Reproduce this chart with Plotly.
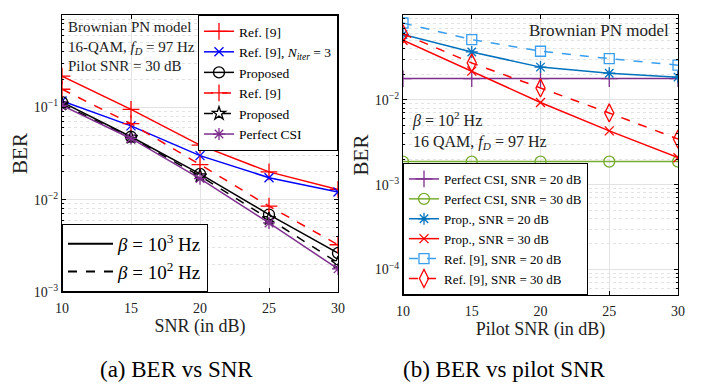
import plotly.graph_objects as go

# ---------- data ----------
snr = [10, 15, 20, 25, 30]
ref9_b3 = [0.218, 0.095, 0.039, 0.020, 0.0129]
ref9_niter3_b3 = [0.117, 0.063, 0.030, 0.0173, 0.0121]
prop_b3 = [0.114, 0.048, 0.019, 0.0069, 0.00264]
ref9_b2 = [0.157, 0.0665, 0.024, 0.0085, 0.00325]
prop_b2 = [0.108, 0.047, 0.018, 0.0062, 0.00207]
perfect_csi = [0.105, 0.046, 0.0169, 0.0056, 0.00178]

pilot_snr = [10, 15, 20, 25, 30]
perf_csi_20 = [0.0178, 0.0178, 0.0178, 0.0178, 0.0178]
perf_csi_30 = [0.00187, 0.00187, 0.00187, 0.00187, 0.00187]
prop_20 = [0.059, 0.0367, 0.0243, 0.0206, 0.0185]
prop_30 = [0.0504, 0.0218, 0.0093, 0.0043, 0.00208]
ref9_20 = [0.0805, 0.0512, 0.0374, 0.0306, 0.0256]
ref9_30 = [0.060, 0.0272, 0.0138, 0.0070, 0.00345]

xticks = [10, 15, 20, 25, 30]

# page has an 8px body margin; lay out in target-pixel coordinates
OFFX, OFFY = 8, 6
W, H = 707 - OFFX, 387 - OFFY

FONT = "Liberation Serif"
RED = "#FF0000"
BLUE = "#0000FF"
PURPLE = "#7E2F8E"
GREEN = "#77AC30"
STEEL = "#0072BD"
LBLUE = "#3A9EEE"

def px(x):
    return (x - OFFX) / W

def py(y):
    return 1 - (y - OFFY) / H

fig = go.Figure()

def add(x, y, name, color, dash, symbol, xa, ya, legend, size=9, lw=1.5):
    fig.add_trace(go.Scatter(
        x=x, y=y, name=name, mode="lines+markers", xaxis=xa, yaxis=ya,
        legend=legend,
        line=dict(color=color, width=lw, dash=dash),
        marker=dict(symbol=symbol, size=size, color=color,
                    line=dict(color=color, width=1.3)),
    ))

# left panel
add(snr, ref9_b3, "Ref. [9]", RED, "solid", "cross-thin-open", "x", "y", "legend", 12)
add(snr, ref9_niter3_b3, "Ref. [9], <i>N</i><sub><i>iter</i></sub> = 3", BLUE, "solid", "x-thin-open", "x", "y", "legend", 9)
add(snr, prop_b3, "Proposed", "black", "solid", "circle-open", "x", "y", "legend", 11)
add(snr, ref9_b2, "Ref. [9]", RED, "dash", "cross-thin-open", "x", "y", "legend", 12)
add(snr, prop_b2, "Proposed", "black", "dash", "star-open", "x", "y", "legend", 10)
add(snr, perfect_csi, "Perfect CSI", PURPLE, "solid", "asterisk-open", "x", "y", "legend", 10)

# beta legend (dummy line entries)
fig.add_trace(go.Scatter(x=[None], y=[None], mode="lines", name="<i>β</i> = 10<sup>3</sup> Hz",
                         line=dict(color="black", width=2, dash="solid"), xaxis="x", yaxis="y", legend="legend2"))
fig.add_trace(go.Scatter(x=[None], y=[None], mode="lines", name="<i>β</i> = 10<sup>2</sup> Hz",
                         line=dict(color="black", width=2, dash="dash"), xaxis="x", yaxis="y", legend="legend2"))

# right panel
add(pilot_snr, perf_csi_20, "Perfect CSI, SNR = 20 dB", PURPLE, "solid", "cross-thin-open", "x2", "y2", "legend3", 12)
add(pilot_snr, perf_csi_30, "Perfect CSI, SNR = 30 dB", GREEN, "solid", "circle-open", "x2", "y2", "legend3", 11)
add(pilot_snr, prop_20, "Prop., SNR = 20 dB", STEEL, "solid", "asterisk-open", "x2", "y2", "legend3", 10)
add(pilot_snr, prop_30, "Prop., SNR = 30 dB", RED, "solid", "x-thin-open", "x2", "y2", "legend3", 9)
add(pilot_snr, ref9_20, "Ref. [9], SNR = 20 dB", LBLUE, "dash", "square-open", "x2", "y2", "legend3", 10)
add(pilot_snr, ref9_30, "Ref. [9], SNR = 30 dB", RED, "dash", "diamond-tall-open", "x2", "y2", "legend3", 13)

axis_common = dict(
    showline=True, linecolor="black", linewidth=1, mirror="allticks",
    ticks="inside", ticklen=4, tickcolor="black",
    showgrid=True, gridcolor="#E3E3E3", gridwidth=1,
    zeroline=False, tickfont=dict(family=FONT, size=14, color="#222"),
    automargin=False,
)

ytick_text_l = ["10<sup>0</sup>", "10<sup>−1</sup>", "10<sup>−2</sup>", "10<sup>−3</sup>"]
ytick_vals_l = [1, 0.1, 0.01, 0.001]
ytick_text_r = ["10<sup>−1</sup>", "10<sup>−2</sup>", "10<sup>−3</sup>", "10<sup>−4</sup>"]
ytick_vals_r = [0.1, 0.01, 0.001, 0.0001]

minor_y = dict(dtick="D1", showgrid=True, gridcolor="#E3E3E3", griddash="dot",
               ticks="inside", ticklen=2, tickcolor="black")

title_font = dict(family=FONT, size=18, color="#222")
ber_font = dict(family=FONT, size=21, color="#222")

fig.update_layout(
    width=W, height=H,
    margin=dict(l=0, r=0, t=0, b=0, autoexpand=False),
    paper_bgcolor="white", plot_bgcolor="white",
    font=dict(family=FONT, size=14, color="black"),
    xaxis=dict(axis_common, domain=[px(62), px(338)], range=[10, 30], tickvals=xticks,
               ticklabelstandoff=3,
               title=dict(text="SNR (in dB)", font=title_font, standoff=2), anchor="y"),
    yaxis=dict(axis_common, type="log", domain=[py(290), py(13)], range=[-3, 0],
               tickvals=ytick_vals_l, ticktext=ytick_text_l, minor=minor_y,
               title=dict(text="BER", font=ber_font, standoff=0), anchor="x"),
    xaxis2=dict(axis_common, domain=[px(403), px(678)], range=[10, 30], tickvals=xticks,
                ticklabelstandoff=3,
                title=dict(text="Pilot SNR (in dB)", font=title_font, standoff=2), anchor="y2"),
    yaxis2=dict(axis_common, type="log", domain=[py(293), py(13)], range=[-4.301, -1],
                tickvals=ytick_vals_r, ticktext=ytick_text_r, minor=minor_y,
                title=dict(text="BER", font=ber_font, standoff=0), anchor="x2"),
    legend=dict(x=px(338), y=py(13), xanchor="right", yanchor="top",
                bgcolor="white", bordercolor="black", borderwidth=1,
                font=dict(family=FONT, size=13.5), tracegroupgap=0, itemwidth=30,
                traceorder="normal"),
    legend2=dict(x=px(62), y=py(290), xanchor="left", yanchor="bottom",
                 bgcolor="white", bordercolor="black", borderwidth=1,
                 font=dict(family=FONT, size=19), itemwidth=45),
    legend3=dict(x=px(403), y=py(293), xanchor="left", yanchor="bottom",
                 bgcolor="white", bordercolor="black", borderwidth=1,
                 font=dict(family=FONT, size=13), tracegroupgap=0, itemwidth=30,
                 traceorder="normal"),
    showlegend=True,
)

fig.add_annotation(xref="paper", yref="paper", x=px(66), y=py(15), xanchor="left", yanchor="top",
                   text="Brownian PN model<br>16-QAM, <i>f</i><sub><i>D</i></sub> = 97 Hz<br>Pilot SNR = 30 dB",
                   showarrow=False, align="left", font=dict(family=FONT, size=15, color="#222"))
fig.add_annotation(xref="paper", yref="paper", x=px(671), y=py(17), xanchor="right", yanchor="top",
                   text="Brownian PN model", showarrow=False, font=dict(family=FONT, size=17, color="#222"))
fig.add_annotation(xref="paper", yref="paper", x=px(410), y=py(105), xanchor="left", yanchor="top",
                   text="<i>β</i> = 10<sup>2</sup> Hz<br>16 QAM, <i>f</i><sub><i>D</i></sub> = 97 Hz",
                   showarrow=False, align="left", font=dict(family=FONT, size=16, color="#222"))
fig.add_annotation(xref="paper", yref="paper", x=px(176), y=py(367), xanchor="center", yanchor="middle",
                   text="(a) BER vs SNR", showarrow=False, font=dict(family=FONT, size=23, color="black"))
fig.add_annotation(xref="paper", yref="paper", x=px(504), y=py(367), xanchor="center", yanchor="middle",
                   text="(b) BER vs pilot SNR", showarrow=False, font=dict(family=FONT, size=23, color="black"))

fig.write_html("out.html")
